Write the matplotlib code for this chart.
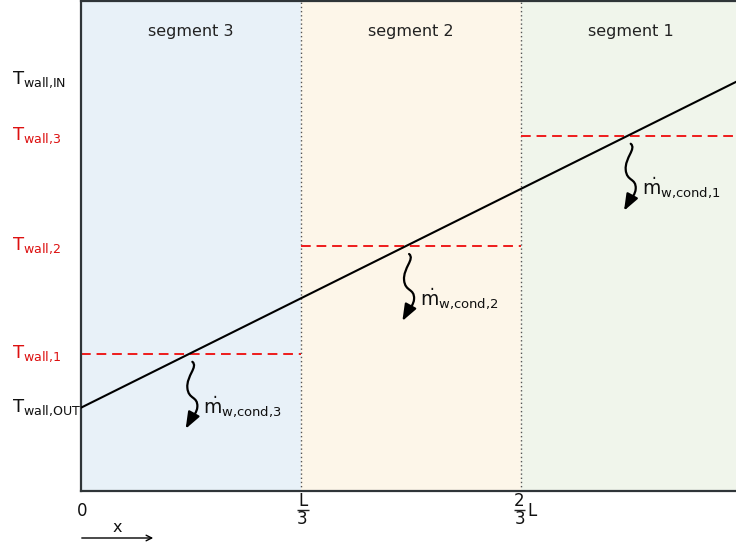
import matplotlib
matplotlib.use("Agg")
import matplotlib.pyplot as plt
import matplotlib.transforms as mtransforms
from matplotlib.patches import FancyArrowPatch, PathPatch
from matplotlib.path import Path

plt.rcParams["font.family"] = ["DejaVu Sans"]
plt.rcParams["mathtext.default"] = "regular"

# Wall temperature profile along the pipe (x in units of L)
seg_names = ["segment 3", "segment 2", "segment 1"]
seg_edges = [0.0, 1 / 3, 2 / 3, 1.0]
seg_colors = ["#e8f1f8", "#fdf6e9", "#f0f5eb"]
T_out = 17.0
T_in = 84.0
T_wall = [28.0, 50.0, 72.5]          # segment-wise wall temperatures (seg 3, 2, 1)
wall_labels = [r"$T_{\text{wall,1}}$", r"$T_{\text{wall,2}}$", r"$T_{\text{wall,3}}$"]
cond_labels = [r"$\dot{m}_{\text{w,cond,3}}$", r"$\dot{m}_{\text{w,cond,2}}$",
               r"$\dot{m}_{\text{w,cond,1}}$"]
# position labels: (x, numerator, denominator, trailing text)
pos_x = [0.0, 1 / 3, 2 / 3, 1.0]
pos_num = ["", "L", "2", ""]
pos_den = ["", "3", "3", ""]
pos_tail = ["0", "", "L", "L"]

W, H = 736, 547
fig = plt.figure(figsize=(W / 100, H / 100), dpi=100)
ax = fig.add_axes([81 / W, 56 / H, 660 / W, 490 / H])
ax.set_xlim(0, 1)
ax.set_ylim(0, 100)
ax.set_xticks([])
ax.set_yticks([])
for sp in ax.spines.values():
    sp.set_color("#2f3538")
    sp.set_linewidth(1.6)

# segment backgrounds and labels
for i in range(3):
    ax.axvspan(seg_edges[i], seg_edges[i + 1], color=seg_colors[i], zorder=0, lw=0)
    ax.text((seg_edges[i] + seg_edges[i + 1]) / 2, 93.7, seg_names[i],
            ha="center", va="center", fontsize=11.5, color="#222222")
for xb in seg_edges[1:3]:
    ax.axvline(xb, color="#555555", ls=(0, (1, 2)), lw=1.0, zorder=1)

# linear wall temperature
ax.plot([0, 1], [T_out, T_in], color="black", lw=1.5, zorder=3)

# wall temperature levels per segment
for i in range(3):
    ax.plot([seg_edges[i], seg_edges[i + 1]], [T_wall[i], T_wall[i]],
            color="#ee1c1c", ls=(0, (5, 3)), lw=1.4, zorder=2)

# left-hand labels
lab_tr = mtransforms.blended_transform_factory(fig.transFigure, ax.transData)
lab_kw = dict(transform=lab_tr, ha="left", va="center", fontsize=13, clip_on=False)
ax.text(12 / W, T_in, r"$T_{\text{wall,IN}}$", color="#111111", **lab_kw)
ax.text(12 / W, T_out, r"$T_{\text{wall,OUT}}$", color="#111111", **lab_kw)
for i in range(3):
    ax.text(12 / W, T_wall[i], wall_labels[i], color="#dd1111", **lab_kw)

# condensation arrows: wavy stem plus filled head, offsets in pixels (down = +)
stem_verts = [(0, 0), (6, 5), (-6, 14), (-5, 26),
              (-4, 38), (5.5, 34), (5, 45),
              (4.5, 51), (1, 54), (-0.7, 56)]
stem_codes = [Path.MOVETO] + [Path.CURVE4] * 9
stem = Path(stem_verts, stem_codes)
head_base = (-0.7, 56)
head_tip = (-6.7, 67)

slope = T_in - T_out
for i in range(3):
    xi = (T_wall[i] - T_out) / slope
    tr = (mtransforms.Affine2D().scale(1, -1).translate(3, -8)
          + mtransforms.ScaledTranslation(xi, T_wall[i], ax.transData))
    ax.add_patch(PathPatch(stem, fill=False, edgecolor="black", lw=1.6,
                           transform=tr, zorder=4, capstyle="round"))
    ax.add_patch(FancyArrowPatch(head_base, head_tip, transform=tr,
                                 arrowstyle="-|>,head_length=0.5,head_width=0.19",
                                 mutation_scale=20, color="black", lw=1.6,
                                 shrinkA=0, shrinkB=0, zorder=4))
    ax.annotate(cond_labels[i], xy=(xi, T_wall[i]), xytext=(14, -53),
                textcoords="offset pixels", ha="left", va="center",
                fontsize=13.5, color="#111111")

# position labels below the axis (x in data, y in figure fraction)
bot_tr = mtransforms.blended_transform_factory(ax.transData, fig.transFigure)
px = 1 / 660  # one pixel in data units along x
def fy(ypix):
    return 1 - ypix / H
txt_kw = dict(transform=bot_tr, va="center", fontsize=12, color="#111111", clip_on=False)
for xp, num, den, tail in zip(pos_x, pos_num, pos_den, pos_tail):
    if num:
        cx = xp + (1.5 if tail == "" else -1.5) * px
        ax.text(cx, fy(500.5), num, ha="center", **txt_kw)
        ax.text(cx, fy(519), den, ha="center", **txt_kw)
        ax.plot([cx - 6 * px, cx + 6 * px], [fy(510), fy(510)], transform=bot_tr,
                color="#222222", lw=1.0, clip_on=False, solid_capstyle="butt")
        if tail:
            ax.text(cx + 8 * px, fy(511), tail, ha="left", **txt_kw)
    else:
        ax.text(xp + 1.5 * px, fy(511), tail, ha="center", **txt_kw)

# x direction arrow
fig.patches.append(FancyArrowPatch((79 / W, 1 - 538 / H), (156 / W, 1 - 538 / H),
                                   transform=fig.transFigure, arrowstyle="->",
                                   mutation_scale=10, lw=1.0, color="black"))
fig.text(117 / W, 1 - 528 / H, "x", ha="center", va="center", fontsize=11.5,
         color="#111111")

fig.savefig("out.png", dpi=100)
